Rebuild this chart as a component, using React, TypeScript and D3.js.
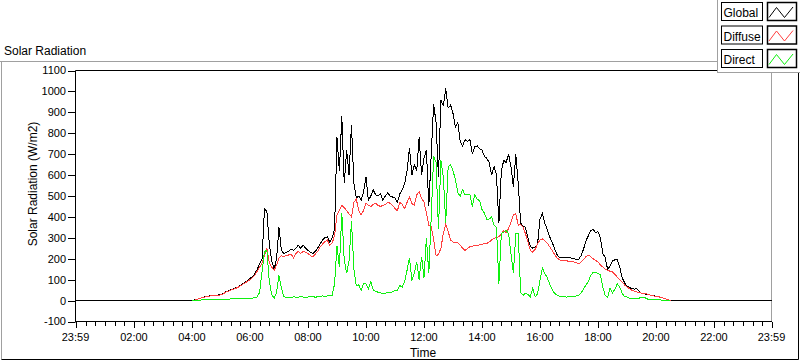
import React from "react";
import * as d3 from "d3";

// time in minutes of day, 5-minute samples from 04:00 to 20:30
const times: number[] = d3.range(240, 1231, 5);

const globalRad: number[] = [
  0,3,6,10,14,17,20,22,24,25,26,27,
  28,35,42,47,52,56,60,65,72,80,88,95,
  105,115,128,150,175,200,440,425,270,190,150,200,
  350,240,225,230,235,245,240,250,265,250,265,250,
  240,230,225,235,250,270,290,300,305,280,300,340,
  780,620,880,560,720,600,840,560,490,500,480,520,
  590,480,500,530,505,500,510,480,500,515,500,495,
  490,470,510,530,560,620,730,600,650,620,780,600,
  680,720,450,700,940,850,590,960,930,1015,920,935,
  895,830,850,760,740,770,760,770,700,735,740,725,
  720,690,680,660,600,640,600,370,620,670,660,700,
  640,545,700,560,370,355,350,300,260,250,255,270,
  390,415,370,340,305,280,250,220,208,207,206,206,
  205,203,200,198,196,215,245,285,310,335,340,325,
  330,300,225,205,148,165,190,195,195,160,110,85,
  70,62,58,55,57,45,35,32,30,28,26,24,
  20,18,16,12,8,4,0,
];

const diffuseRad: number[] = [
  0,2,5,9,13,16,19,21,23,24,25,26,
  27,33,40,45,50,54,58,63,70,78,85,92,
  100,110,122,140,160,180,215,250,180,160,145,170,
  205,215,210,215,218,222,205,225,235,225,235,232,
  225,215,210,222,235,255,270,282,290,265,275,310,
  410,430,455,445,430,415,400,470,485,430,410,430,
  465,455,450,460,465,455,450,455,460,470,465,455,
  440,430,470,460,440,470,495,465,455,505,520,490,
  470,420,360,355,290,215,220,250,320,365,330,290,
  280,280,275,265,250,240,248,258,260,265,262,268,
  270,272,273,280,290,298,303,305,320,335,325,345,
  375,410,415,360,365,350,320,280,240,232,245,270,
  290,295,285,275,258,240,222,205,195,190,190,190,
  188,186,185,182,175,185,195,210,218,210,200,192,
  185,170,160,150,145,140,137,125,112,100,88,75,
  65,57,50,45,41,38,36,34,32,28,25,22,
  20,18,16,12,8,4,0,
];

const directRad: number[] = [
  0,0,1,2,3,3,4,4,5,5,5,5,
  6,6,7,7,8,8,8,9,9,10,10,10,
  11,12,14,18,40,140,235,240,90,30,10,40,
  120,60,20,15,14,15,18,16,15,20,17,16,
  17,18,20,16,18,20,22,19,22,24,25,80,
  260,160,420,195,130,190,380,150,70,75,50,80,
  80,55,90,50,45,40,38,33,35,40,38,42,
  48,50,72,65,90,145,205,95,130,185,100,210,
  110,300,130,400,690,660,340,670,590,370,640,650,
  620,580,515,500,530,505,505,505,450,505,485,478,
  435,418,390,390,400,360,350,80,320,328,335,320,
  225,130,320,320,40,25,35,30,17,60,18,33,
  97,155,130,110,80,55,35,27,22,20,18,17,
  18,19,20,22,25,35,55,75,90,120,135,135,
  130,125,65,25,17,60,35,55,80,65,35,20,
  17,12,10,9,10,12,14,17,10,5,4,4,
  4,3,3,2,2,1,0,
];

const xMajorTicks: number[] = [-1, 120, 240, 360, 480, 600, 720, 840, 960, 1080, 1200, 1320, 1439];
const xMajorLabels: string[] = ["23:59", "02:00", "04:00", "06:00", "08:00", "10:00", "12:00", "14:00", "16:00", "18:00", "20:00", "22:00", "23:59"];
const yTicks: number[] = [-100, 0, 100, 200, 300, 400, 500, 600, 700, 800, 900, 1000, 1100];

const seriesNames: string[] = ["Global", "Diffuse", "Direct"];
const seriesColors: string[] = ["#000000", "#ff4040", "#10f010"];

export default function App() {
  const x = d3.scaleLinear().domain([-1, 1439]).range([75.5, 771.5]);
  const y = d3.scaleLinear().domain([-100, 1100]).range([321.5, 70.5]);
  const line = d3
    .line<[number, number]>()
    .x((d) => x(d[0]))
    .y((d) => y(d[1]));

  const gPts: [number, number][] = [[-1, 0], ...times.map((t, i) => [t, globalRad[i]] as [number, number]), [1439, 0]];
  const dPts: [number, number][] = times.map((t, i) => [t, diffuseRad[i]]);
  const rPts: [number, number][] = times.map((t, i) => [t, directRad[i]]);
  const paths = [gPts, dPts, rPts];

  const minorTicks = d3.range(20, 1439, 20).filter((m) => m % 120 !== 0);
  const font = "'Liberation Sans', Arial, sans-serif";
  const rows = [2.5, 26, 49.5];

  return (
    <svg
      width={800}
      height={361}
      style={{ position: "absolute", left: 0, top: 0, background: "#fff" }}
      fontFamily={font}
    >
      <rect x={0} y={0} width={800} height={361} fill="#fff" />
      {/* outer frame */}
      <line x1={0} x2={718} y1={61.5} y2={61.5} stroke="#a0a0a0" />
      <line x1={1.5} x2={1.5} y1={61.5} y2={359.5} stroke="#a0a0a0" />
      <line x1={1.5} x2={798.5} y1={359.5} y2={359.5} stroke="#000" />
      <line x1={798.5} x2={798.5} y1={72.5} y2={359.5} stroke="#000" />
      <text x={4} y={55} fontSize={12} fill="#000">Solar Radiation</text>

      {/* plot frame */}
      <line x1={75.5} x2={718} y1={70.5} y2={70.5} stroke="#000" />
      <line x1={771.5} x2={771.5} y1={72.5} y2={321.5} stroke="#a0a0a0" />

      {/* series */}
      {paths.map((p, i) => (
        <path
          key={i}
          d={line(p) || ""}
          fill="none"
          stroke={seriesColors[i]}
          strokeWidth={1}
          shapeRendering="crispEdges"
        />
      ))}

      {/* y axis */}
      <line x1={75.5} x2={75.5} y1={70.5} y2={322} stroke="#000" />
      {yTicks.map((v) => (
        <g key={v}>
          <line x1={68} x2={75.5} y1={Math.round(y(v)) + 0.5} y2={Math.round(y(v)) + 0.5} stroke="#000" />
          <text x={66} y={y(v)} dy="0.36em" textAnchor="end" fontSize={11} fill="#000">
            {v}
          </text>
        </g>
      ))}
      <text
        transform="translate(37,184) rotate(-90)"
        textAnchor="middle"
        fontSize={12}
        fill="#000"
      >
        Solar Radiation (W/m2)
      </text>

      {/* x axis */}
      <line x1={75} x2={772} y1={321.5} y2={321.5} stroke="#000" />
      {minorTicks.map((m) => (
        <line key={m} x1={Math.round(x(m)) + 0.5} x2={Math.round(x(m)) + 0.5} y1={322} y2={326} stroke="#000" />
      ))}
      {xMajorTicks.map((m, i) => (
        <g key={m}>
          <line x1={Math.round(x(m)) + 0.5} x2={Math.round(x(m)) + 0.5} y1={322} y2={328} stroke="#000" />
          <text x={x(m)} y={341} textAnchor="middle" fontSize={11} fill="#000">
            {xMajorLabels[i]}
          </text>
        </g>
      ))}
      <text x={423} y={357} textAnchor="middle" fontSize={12} fill="#000">Time</text>

      {/* legend */}
      <rect x={717.5} y={-1} width={90} height={73.5} fill="#fff" stroke="#a0a0a0" />
      {seriesNames.map((name, i) => {
        const top = rows[i];
        return (
          <g key={name}>
            <rect x={721.5} y={top} width={41} height={18} fill="#fff" stroke="#000" />
            <text x={723.5} y={top + 14.5} fontSize={12} fill="#000">{name}</text>
            <rect x={767.5} y={top} width={29} height={18} fill="#fff" stroke="#000" strokeWidth={1.5} />
            <path
              d={`M${769},${top + 15} L${776.5},${top + 5} L${784.5},${top + 15} L${793},${top + 4.5}`}
              fill="none"
              stroke={seriesColors[i]}
            />
          </g>
        );
      })}
    </svg>
  );
}
